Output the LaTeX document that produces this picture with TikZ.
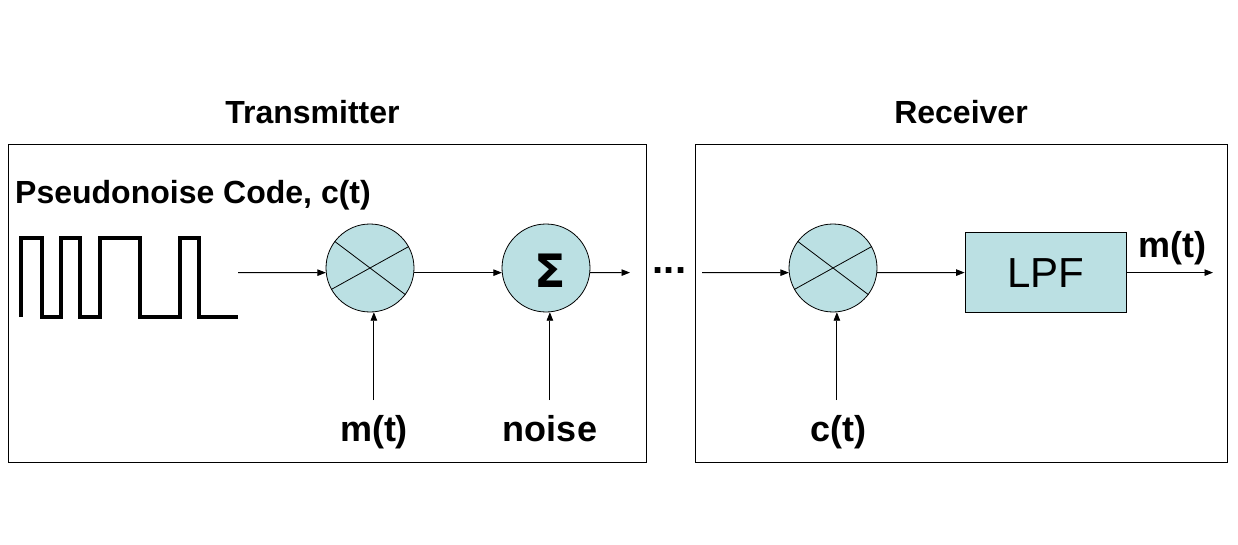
\documentclass[tikz,border=0pt]{standalone}
\usepackage{fontspec}
\setmainfont{Liberation Sans}
\newfontfamily\sigfont{DejaVu Sans}
\usetikzlibrary{arrows.meta}
\definecolor{fillblue}{RGB}{187,224,227}
\begin{document}
\begin{tikzpicture}[x=1pt,y=-1pt,
  arr/.style={-{Triangle[length=8.5pt,width=6.5pt]}, line width=0.9pt},
  mult/.style={circle, draw, fill=fillblue, minimum size=88pt, inner sep=0pt, line width=0.8pt},
  frame/.style={draw, line width=1.1pt, inner sep=0pt, anchor=north west},
  title/.style={anchor=base, inner sep=0pt, font=\fontsize{32}{38}\selectfont\bfseries},
  lbl/.style={anchor=base, inner sep=0pt, font=\fontsize{36}{42}\selectfont\bfseries},
  cross/.style={line width=0.8pt}
]
\useasboundingbox (0,0) rectangle (1238,545);
\fill[white] (0,0) rectangle (1238,545);

% frames
\node[frame, minimum width=638pt, minimum height=318pt] (tx) at (8,144) {};
\node[frame, minimum width=532pt, minimum height=318pt] (rx) at (695,144) {};

% titles
\node[title] (txt) at (312.5,123.5) {Transmitter};
\node[title] (rxt) at (961,123.5) {Receiver};
\node[title, anchor=base west] (pn) at (15,204) {Pseudonoise Code, c(t)};

% square wave
\draw[line width=3.5pt, line join=miter]
  (21,317) -- (21,238) -- (42,238) -- (42,317) -- (61,317) -- (61,238)
  -- (80,238) -- (80,317) -- (100,317) -- (100,238) -- (140,238) -- (140,317)
  -- (180,317) -- (180,238) -- (199,238) -- (199,317) -- (238,317);

% blocks
\node[mult] (m1) at (370,268) {};
\draw[cross] (m1.143) -- (m1.-37);
\draw[cross] (m1.209) -- (m1.29);
\node[mult] (sg) at (546,268) {};
\node[inner sep=0pt, font=\sigfont\fontsize{46}{46}\selectfont\bfseries] (sgt) at (550,270.5) {Σ};
\node[mult] (r1) at (833,268) {};
\draw[cross] (r1.143) -- (r1.-37);
\draw[cross] (r1.209) -- (r1.29);
\node[draw, fill=fillblue, minimum width=161pt, minimum height=80pt, inner sep=0pt,
      line width=0.8pt, font=\fontsize{42}{42}\selectfont] (lpf) at (1045.5,272.6) {LPF};

% free ends
\coordinate (wend) at (238,272.6);
\coordinate (sout) at (630,272.6);
\coordinate (rin) at (702,272.6);
\coordinate (out) at (1213,272.6);
\coordinate (mtin) at (m1.-85 |- 0,400);
\coordinate (nzin) at (sg.-85 |- 0,400);
\coordinate (ctin) at (r1.-85 |- 0,400);

% connectors
\draw[arr] (wend) -- (m1.186);
\draw[arr] (m1.-6) -- (sg.186);
\draw[arr] (sg.-6) -- (sout);
\draw[arr] (rin) -- (r1.186);
\draw[arr] (r1.-6) -- (lpf.west);
\draw[arr] (lpf.east) -- (out);
\draw[arr] (mtin) -- (m1.-85);
\draw[arr] (nzin) -- (sg.-85);
\draw[arr] (ctin) -- (r1.-85);

% labels
\node[lbl, font=\fontsize{40}{42}\selectfont\bfseries] (dots) at (669.5,273) {...};
\node[lbl] (mt) at (374,441) {m(t)};
\node[lbl] (nz) at (550,441) {noise};
\node[lbl] (ct) at (838,441) {c(t)};
\node[lbl] (mo) at (1172,257) {m(t)};
\end{tikzpicture}
\end{document}
